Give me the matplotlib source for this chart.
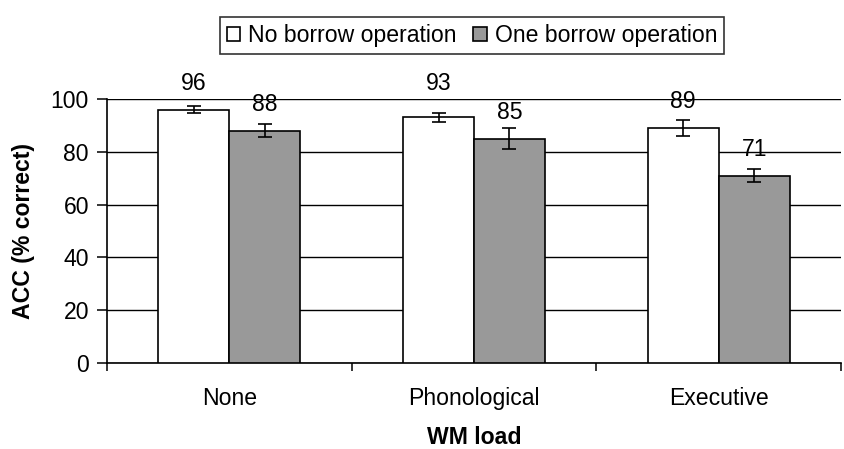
import matplotlib
matplotlib.use("Agg")
import matplotlib.pyplot as plt
import numpy as np

plt.rcParams['font.family'] = ['Liberation Sans', 'DejaVu Sans']

categories = ["None", "Phonological", "Executive"]
series_names = ["No borrow operation", "One borrow operation"]
no_borrow = [96, 93, 89]
one_borrow = [88, 85, 71]
no_borrow_err = [1.3, 1.8, 2.9]
one_borrow_err = [2.5, 3.9, 2.5]
yticks = [0, 20, 40, 60, 80, 100]

FS = 16.6

fig = plt.figure(figsize=(8.44, 4.49), dpi=100)
ax = fig.add_axes([107 / 844, 1 - 363 / 449, (841 - 107) / 844, (363 - 99) / 449])

x = np.arange(len(categories))
w = 0.29
colors = ["white", "#999999"]
for i, (vals, errs) in enumerate([(no_borrow, no_borrow_err), (one_borrow, one_borrow_err)]):
    pos = x + (i - 0.5) * w
    ax.bar(pos, vals, width=w, color=colors[i], edgecolor="black", linewidth=1.2,
           label=series_names[i], zorder=3)
    ax.errorbar(pos, vals, yerr=errs, fmt="none", ecolor="black", elinewidth=1.2,
                capsize=4.8, capthick=1.2, zorder=4)
    for p, v in zip(pos, vals):
        off = 12.8 if v == 93 else 9.9
        ax.text(p, v + off, f"{v}", ha="center", va="center", fontsize=FS, zorder=5)

ax.set_xlim(-0.5, len(categories) - 0.5)
ax.set_ylim(0, 100)
ax.set_yticks(yticks)
ax.yaxis.grid(True, color="black", linewidth=1.0, zorder=0)
ax.set_axisbelow(True)
ax.set_xticks(np.arange(len(categories) + 1) - 0.5)
ax.set_xticklabels([])
ax.set_xticks(x, minor=True)
ax.set_xticklabels(categories, minor=True, fontsize=FS)
ax.tick_params(axis="x", which="minor", length=0, pad=17)
ax.tick_params(axis="x", which="major", length=6, width=1.1, direction="out")
ax.tick_params(axis="y", length=7, width=1.1, labelsize=FS, pad=6)
for s in ["top", "right"]:
    ax.spines[s].set_visible(False)
for s in ["left", "bottom"]:
    ax.spines[s].set_linewidth(1.2)

ax.set_ylabel("ACC (% correct)", fontsize=FS, fontweight="bold", labelpad=11)
ax.set_xlabel("WM load", fontsize=FS, fontweight="bold", labelpad=12)

leg = fig.legend(loc="center", bbox_to_anchor=(472 / 844, 1 - 35.5 / 449), ncol=2,
                 fontsize=FS, frameon=True, fancybox=False, edgecolor="black",
                 handlelength=0.6, handleheight=0.6, handletextpad=0.35,
                 columnspacing=0.7, borderpad=0.3)
leg.get_frame().set_linewidth(1.2)

fig.savefig("out.png", dpi=100)
